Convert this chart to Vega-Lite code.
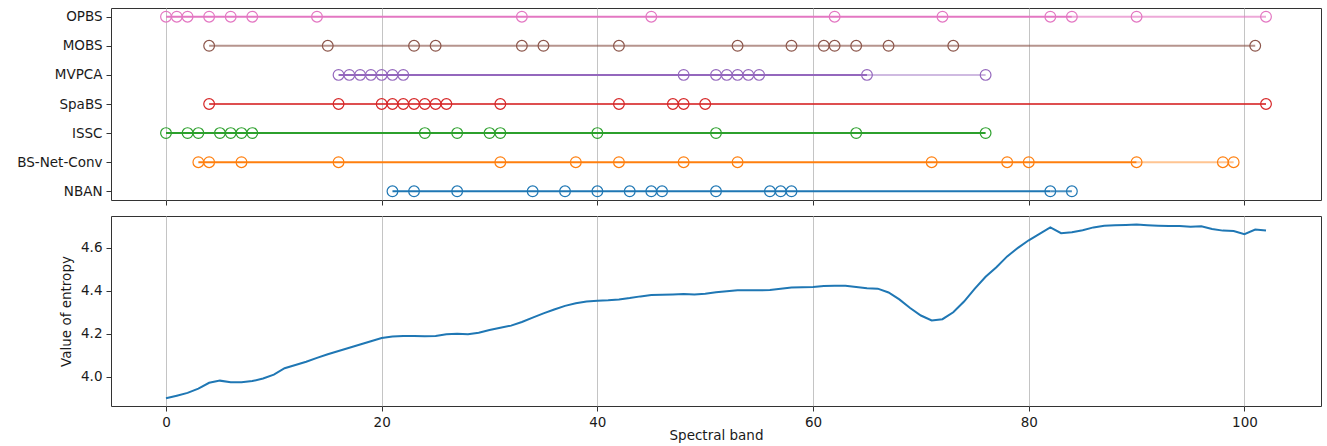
{
  "$schema": "https://vega.github.io/schema/vega-lite/v6.json",
  "padding": {"left": 16, "top": 7, "right": 7, "bottom": 2},
  "spacing": 9,
  "background": "white",
  "config": {
    "font": "DejaVu Sans",
    "view": {"stroke": "#333333", "strokeWidth": 1},
    "axis": {
      "domain": false,
      "tickColor": "#333333",
      "tickSize": 5,
      "labelColor": "#1a1a1a",
      "labelFontSize": 13.5,
      "labelPadding": 4,
      "titleColor": "#1a1a1a",
      "titleFontSize": 13.5,
      "titleFontWeight": "normal",
      "gridColor": "#c4c4c4",
      "gridWidth": 1
    }
  },
  "datasets": {
    "pts": [
      {"m": "OPBS", "b": 0}, {"m": "OPBS", "b": 1}, {"m": "OPBS", "b": 2}, {"m": "OPBS", "b": 4}, {"m": "OPBS", "b": 6}, {"m": "OPBS", "b": 8}, {"m": "OPBS", "b": 14}, {"m": "OPBS", "b": 33}, {"m": "OPBS", "b": 45}, {"m": "OPBS", "b": 62}, {"m": "OPBS", "b": 72}, {"m": "OPBS", "b": 82}, {"m": "OPBS", "b": 84}, {"m": "OPBS", "b": 90}, {"m": "OPBS", "b": 102},
      {"m": "MOBS", "b": 4}, {"m": "MOBS", "b": 15}, {"m": "MOBS", "b": 23}, {"m": "MOBS", "b": 25}, {"m": "MOBS", "b": 33}, {"m": "MOBS", "b": 35}, {"m": "MOBS", "b": 42}, {"m": "MOBS", "b": 53}, {"m": "MOBS", "b": 58}, {"m": "MOBS", "b": 61}, {"m": "MOBS", "b": 62}, {"m": "MOBS", "b": 64}, {"m": "MOBS", "b": 67}, {"m": "MOBS", "b": 73}, {"m": "MOBS", "b": 101},
      {"m": "MVPCA", "b": 16}, {"m": "MVPCA", "b": 17}, {"m": "MVPCA", "b": 18}, {"m": "MVPCA", "b": 19}, {"m": "MVPCA", "b": 20}, {"m": "MVPCA", "b": 21}, {"m": "MVPCA", "b": 22}, {"m": "MVPCA", "b": 48}, {"m": "MVPCA", "b": 51}, {"m": "MVPCA", "b": 52}, {"m": "MVPCA", "b": 53}, {"m": "MVPCA", "b": 54}, {"m": "MVPCA", "b": 55}, {"m": "MVPCA", "b": 65}, {"m": "MVPCA", "b": 76},
      {"m": "SpaBS", "b": 4}, {"m": "SpaBS", "b": 16}, {"m": "SpaBS", "b": 20}, {"m": "SpaBS", "b": 21}, {"m": "SpaBS", "b": 22}, {"m": "SpaBS", "b": 23}, {"m": "SpaBS", "b": 24}, {"m": "SpaBS", "b": 25}, {"m": "SpaBS", "b": 26}, {"m": "SpaBS", "b": 31}, {"m": "SpaBS", "b": 42}, {"m": "SpaBS", "b": 47}, {"m": "SpaBS", "b": 48}, {"m": "SpaBS", "b": 50}, {"m": "SpaBS", "b": 102},
      {"m": "ISSC", "b": 0}, {"m": "ISSC", "b": 2}, {"m": "ISSC", "b": 3}, {"m": "ISSC", "b": 5}, {"m": "ISSC", "b": 6}, {"m": "ISSC", "b": 7}, {"m": "ISSC", "b": 8}, {"m": "ISSC", "b": 24}, {"m": "ISSC", "b": 27}, {"m": "ISSC", "b": 30}, {"m": "ISSC", "b": 31}, {"m": "ISSC", "b": 40}, {"m": "ISSC", "b": 51}, {"m": "ISSC", "b": 64}, {"m": "ISSC", "b": 76},
      {"m": "BS-Net-Conv", "b": 3}, {"m": "BS-Net-Conv", "b": 4}, {"m": "BS-Net-Conv", "b": 7}, {"m": "BS-Net-Conv", "b": 16}, {"m": "BS-Net-Conv", "b": 31}, {"m": "BS-Net-Conv", "b": 38}, {"m": "BS-Net-Conv", "b": 42}, {"m": "BS-Net-Conv", "b": 48}, {"m": "BS-Net-Conv", "b": 53}, {"m": "BS-Net-Conv", "b": 71}, {"m": "BS-Net-Conv", "b": 78}, {"m": "BS-Net-Conv", "b": 80}, {"m": "BS-Net-Conv", "b": 90}, {"m": "BS-Net-Conv", "b": 98}, {"m": "BS-Net-Conv", "b": 99},
      {"m": "NBAN", "b": 21}, {"m": "NBAN", "b": 23}, {"m": "NBAN", "b": 27}, {"m": "NBAN", "b": 34}, {"m": "NBAN", "b": 37}, {"m": "NBAN", "b": 40}, {"m": "NBAN", "b": 43}, {"m": "NBAN", "b": 45}, {"m": "NBAN", "b": 46}, {"m": "NBAN", "b": 51}, {"m": "NBAN", "b": 56}, {"m": "NBAN", "b": 57}, {"m": "NBAN", "b": 58}, {"m": "NBAN", "b": 82}, {"m": "NBAN", "b": 84}
    ],
    "seg": [
      {"m": "OPBS", "from": 0, "to": 84, "n": 4},
      {"m": "OPBS", "from": 84, "to": 102, "n": 2},
      {"m": "MOBS", "from": 4, "to": 101, "n": 2},
      {"m": "MVPCA", "from": 16, "to": 65, "n": 4},
      {"m": "MVPCA", "from": 65, "to": 76, "n": 1},
      {"m": "SpaBS", "from": 4, "to": 102, "n": 3},
      {"m": "ISSC", "from": 0, "to": 76, "n": 4},
      {"m": "BS-Net-Conv", "from": 3, "to": 90, "n": 4},
      {"m": "BS-Net-Conv", "from": 90, "to": 99, "n": 1},
      {"m": "NBAN", "from": 21, "to": 82, "n": 4},
      {"m": "NBAN", "from": 82, "to": 84, "n": 3}
    ],
    "ent": [
      {"b": 0, "e": 3.900}, {"b": 1, "e": 3.912}, {"b": 2, "e": 3.925}, {"b": 3, "e": 3.945}, {"b": 4, "e": 3.972},
      {"b": 5, "e": 3.982}, {"b": 6, "e": 3.975}, {"b": 7, "e": 3.975}, {"b": 8, "e": 3.980}, {"b": 9, "e": 3.992},
      {"b": 10, "e": 4.010}, {"b": 11, "e": 4.040}, {"b": 12, "e": 4.055}, {"b": 13, "e": 4.070}, {"b": 14, "e": 4.088},
      {"b": 15, "e": 4.105}, {"b": 16, "e": 4.120}, {"b": 17, "e": 4.135}, {"b": 18, "e": 4.150}, {"b": 19, "e": 4.165},
      {"b": 20, "e": 4.180}, {"b": 21, "e": 4.187}, {"b": 22, "e": 4.190}, {"b": 23, "e": 4.190}, {"b": 24, "e": 4.188},
      {"b": 25, "e": 4.190}, {"b": 26, "e": 4.198}, {"b": 27, "e": 4.200}, {"b": 28, "e": 4.198}, {"b": 29, "e": 4.205},
      {"b": 30, "e": 4.218}, {"b": 31, "e": 4.228}, {"b": 32, "e": 4.238}, {"b": 33, "e": 4.255}, {"b": 34, "e": 4.275},
      {"b": 35, "e": 4.295}, {"b": 36, "e": 4.313}, {"b": 37, "e": 4.330}, {"b": 38, "e": 4.342}, {"b": 39, "e": 4.350},
      {"b": 40, "e": 4.354}, {"b": 41, "e": 4.356}, {"b": 42, "e": 4.360}, {"b": 43, "e": 4.366}, {"b": 44, "e": 4.374},
      {"b": 45, "e": 4.380}, {"b": 46, "e": 4.382}, {"b": 47, "e": 4.383}, {"b": 48, "e": 4.385}, {"b": 49, "e": 4.383},
      {"b": 50, "e": 4.386}, {"b": 51, "e": 4.393}, {"b": 52, "e": 4.398}, {"b": 53, "e": 4.402}, {"b": 54, "e": 4.402},
      {"b": 55, "e": 4.402}, {"b": 56, "e": 4.404}, {"b": 57, "e": 4.410}, {"b": 58, "e": 4.415}, {"b": 59, "e": 4.416},
      {"b": 60, "e": 4.418}, {"b": 61, "e": 4.422}, {"b": 62, "e": 4.424}, {"b": 63, "e": 4.423}, {"b": 64, "e": 4.418},
      {"b": 65, "e": 4.412}, {"b": 66, "e": 4.410}, {"b": 67, "e": 4.392}, {"b": 68, "e": 4.360}, {"b": 69, "e": 4.320},
      {"b": 70, "e": 4.285}, {"b": 71, "e": 4.262}, {"b": 72, "e": 4.268}, {"b": 73, "e": 4.300}, {"b": 74, "e": 4.350},
      {"b": 75, "e": 4.410}, {"b": 76, "e": 4.465}, {"b": 77, "e": 4.510}, {"b": 78, "e": 4.560}, {"b": 79, "e": 4.600},
      {"b": 80, "e": 4.635}, {"b": 81, "e": 4.665}, {"b": 82, "e": 4.695}, {"b": 83, "e": 4.668}, {"b": 84, "e": 4.672},
      {"b": 85, "e": 4.682}, {"b": 86, "e": 4.695}, {"b": 87, "e": 4.703}, {"b": 88, "e": 4.705}, {"b": 89, "e": 4.706},
      {"b": 90, "e": 4.708}, {"b": 91, "e": 4.705}, {"b": 92, "e": 4.703}, {"b": 93, "e": 4.702}, {"b": 94, "e": 4.702},
      {"b": 95, "e": 4.698}, {"b": 96, "e": 4.700}, {"b": 97, "e": 4.688}, {"b": 98, "e": 4.680}, {"b": 99, "e": 4.678},
      {"b": 100, "e": 4.663}, {"b": 101, "e": 4.685}, {"b": 102, "e": 4.680}
    ]
  },
  "vconcat": [
    {
      "width": 1210,
      "height": 192,
      "layer": [
        {
          "data": {"name": "seg"},
          "mark": {"type": "rule", "strokeWidth": 2},
          "encoding": {
            "x": {"field": "from", "type": "quantitative", "scale": {"domain": [-5.1, 107.1], "nice": false, "zero": false},
                  "axis": {"values": [0, 20, 40, 60, 80, 100], "labels": false, "title": null, "grid": true}},
            "x2": {"field": "to"},
            "y": {"field": "m", "type": "nominal",
                  "sort": ["OPBS", "MOBS", "MVPCA", "SpaBS", "ISSC", "BS-Net-Conv", "NBAN"],
                  "scale": {"type": "point", "padding": 0.3},
                  "axis": {"title": null, "grid": false}},
            "color": {"field": "m", "type": "nominal", "legend": null,
                      "scale": {"domain": ["NBAN", "BS-Net-Conv", "ISSC", "SpaBS", "MVPCA", "MOBS", "OPBS"],
                                "range": ["#1f77b4", "#ff7f0e", "#2ca02c", "#d62728", "#9467bd", "#8c564b", "#e377c2"]}},
            "opacity": {"field": "n", "type": "quantitative", "legend": null,
                        "scale": {"domain": [1, 4], "range": [0.45, 1]}}
          }
        },
        {
          "data": {"name": "pts"},
          "mark": {"type": "point", "shape": "circle", "filled": false, "size": 115, "strokeWidth": 1.2, "opacity": 1},
          "encoding": {
            "x": {"field": "b", "type": "quantitative"},
            "y": {"field": "m", "type": "nominal", "sort": ["OPBS", "MOBS", "MVPCA", "SpaBS", "ISSC", "BS-Net-Conv", "NBAN"]},
            "color": {"field": "m", "type": "nominal", "legend": null}
          }
        }
      ]
    },
    {
      "width": 1210,
      "height": 190,
      "data": {"name": "ent"},
      "mark": {"type": "line", "color": "#1f77b4", "strokeWidth": 2},
      "encoding": {
        "x": {"field": "b", "type": "quantitative", "scale": {"domain": [-5.1, 107.1], "nice": false, "zero": false},
              "axis": {"values": [0, 20, 40, 60, 80, 100], "title": "Spectral band", "grid": true, "titlePadding": 0}},
        "y": {"field": "e", "type": "quantitative", "scale": {"domain": [3.864, 4.748], "nice": false, "zero": false},
              "axis": {"values": [4.0, 4.2, 4.4, 4.6], "format": ".1f", "title": "Value of entropy", "grid": false, "titlePadding": 7}}
      }
    }
  ]
}
